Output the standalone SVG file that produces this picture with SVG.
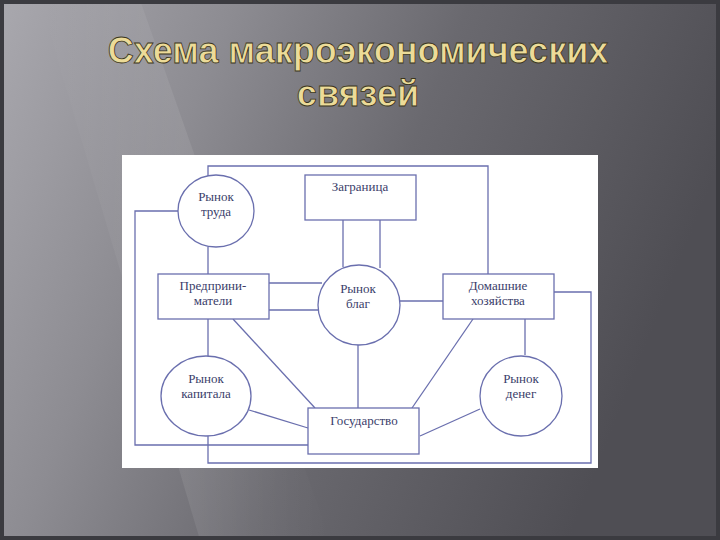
<svg xmlns="http://www.w3.org/2000/svg" width="720" height="540" viewBox="0 0 720 540">
<defs>
<linearGradient id="bg" x1="0" y1="0" x2="1" y2="0.3">
<stop offset="0" stop-color="#a9a8ae"/>
<stop offset="0.3" stop-color="#8d8c92"/>
<stop offset="0.6" stop-color="#6a696f"/>
<stop offset="1" stop-color="#4f4e54"/>
</linearGradient>
<linearGradient id="streak" x1="0" y1="0" x2="1" y2="0">
<stop offset="0" stop-color="#ffffff" stop-opacity="0"/>
<stop offset="0.5" stop-color="#ffffff" stop-opacity="0.08"/>
<stop offset="1" stop-color="#ffffff" stop-opacity="0"/>
</linearGradient>
<style>
.ln{fill:none;stroke:#6a6fae;stroke-width:1.3}
.nd{fill:#ffffff;stroke:#6a6fae;stroke-width:1.3}
.t{font-family:"Liberation Serif",serif;font-size:13px;fill:#3a3d6a;text-anchor:middle}
.ti{font-family:"Liberation Sans",Arial,sans-serif;font-weight:bold;font-size:36px;fill:#ecdb98;stroke:#3a3520;stroke-width:0.8;text-anchor:middle}
</style>
</defs>
<rect width="720" height="540" fill="url(#bg)"/>
<polygon points="40,0 140,0 330,540 200,540" fill="url(#streak)"/>
<rect x="0" y="0" width="720" height="4" fill="#3b3b40"/>
<rect x="0" y="0" width="4" height="540" fill="#3b3b40"/>
<rect x="716" y="0" width="4" height="540" fill="#3b3b40"/>
<rect x="0" y="536" width="720" height="4" fill="#3b3b40"/>
<text class="ti" x="358" y="63">Схема макроэкономических</text>
<text class="ti" x="358" y="106">связей</text>
<rect x="122" y="155" width="476" height="313" fill="#ffffff"/>
<g id="connectors">
<polyline class="ln" points="208,176 208,166 488,166 488,274"/>
<line class="ln" x1="343" y1="220" x2="343" y2="267"/>
<line class="ln" x1="380" y1="220" x2="380" y2="268"/>
<line class="ln" x1="269" y1="283" x2="322" y2="283"/>
<line class="ln" x1="269" y1="310" x2="318" y2="310"/>
<line class="ln" x1="400" y1="301" x2="443" y2="301"/>
<polyline class="ln" points="554,292 591,292 591,463 208,463 208,436"/>
<line class="ln" x1="208" y1="247" x2="208" y2="274"/>
<line class="ln" x1="208" y1="319" x2="208" y2="356"/>
<polyline class="ln" points="178,211 135,211 135,445 308,445"/>
<line class="ln" x1="233" y1="319" x2="315" y2="408"/>
<line class="ln" x1="249" y1="410" x2="308" y2="428"/>
<line class="ln" x1="358" y1="345" x2="358" y2="408"/>
<line class="ln" x1="473" y1="319" x2="412" y2="408"/>
<line class="ln" x1="480" y1="409" x2="420" y2="436"/>
<line class="ln" x1="525" y1="319" x2="525" y2="355"/>
</g>
<g id="trud"><ellipse class="nd" cx="216" cy="211" rx="38" ry="36"/><text class="t" x="216" y="201">Рынок</text><text class="t" x="216" y="216">труда</text></g>
<g id="zagranica"><rect class="nd" x="305" y="175" width="111" height="45"/><text class="t" x="360" y="191">Заграница</text></g>
<g id="predpr"><rect class="nd" x="158" y="274" width="111" height="45"/><text class="t" x="213" y="290">Предприни-</text><text class="t" x="213" y="305">матели</text></g>
<g id="blag"><ellipse class="nd" cx="359" cy="305" rx="41" ry="40"/><text class="t" x="358" y="293">Рынок</text><text class="t" x="358" y="308">благ</text></g>
<g id="dom"><rect class="nd" x="443" y="274" width="111" height="45"/><text class="t" x="498" y="290">Домашние</text><text class="t" x="498" y="305">хозяйства</text></g>
<g id="kapital"><ellipse class="nd" cx="206" cy="396" rx="45" ry="40"/><text class="t" x="206" y="383">Рынок</text><text class="t" x="206" y="398">капитала</text></g>
<g id="deneg"><ellipse class="nd" cx="521" cy="396" rx="41" ry="40"/><text class="t" x="521" y="383">Рынок</text><text class="t" x="521" y="398">денег</text></g>
<g id="gos"><rect class="nd" x="308" y="408" width="111" height="46"/><text class="t" x="364" y="425">Государство</text></g>
</svg>
